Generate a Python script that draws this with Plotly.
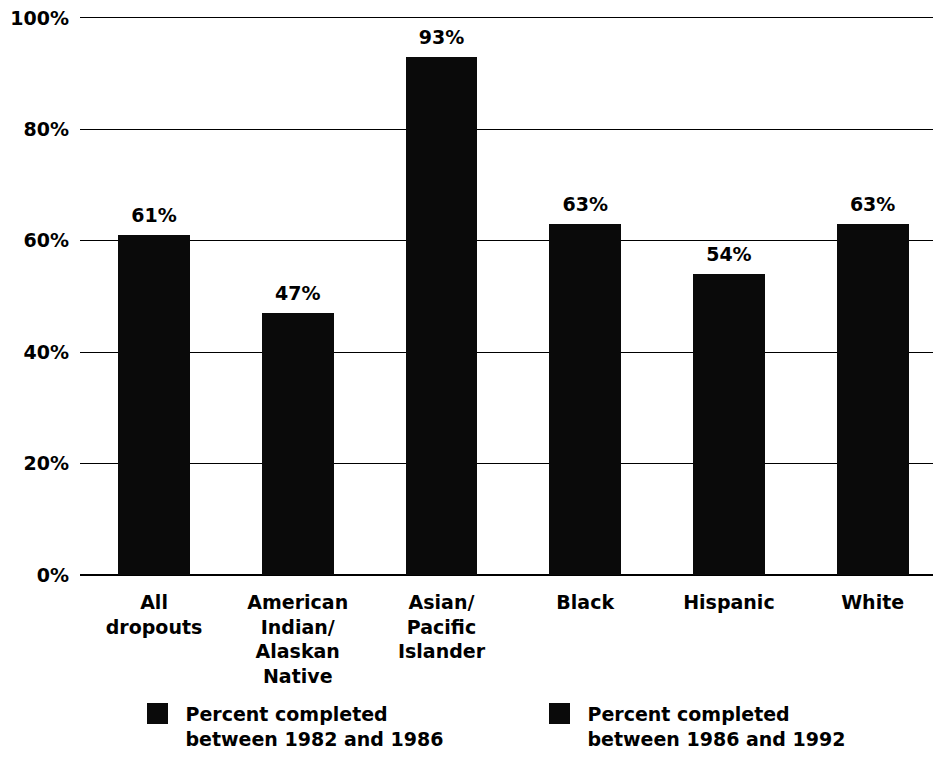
import plotly.graph_objects as go

categories = ["All<br>dropouts", "American<br>Indian/<br>Alaskan<br>Native", "Asian/<br>Pacific<br>Islander",
              "Black", "Hispanic", "White"]
totals = [61, 47, 93, 63, 54, 63]
# split between the two periods is not distinguishable in the scan; estimated from texture bands
completed_1982_1986 = [54, 37, 55, 57, 46, 55]
completed_1986_1992 = [t - a for t, a in zip(totals, completed_1982_1986)]
total_labels = [f"{t}%" for t in totals]
legend_names = ["Percent completed<br>between 1982 and 1986", "Percent completed<br>between 1986 and 1992"]
ytick_vals = [0, 20, 40, 60, 80, 100]
ytick_text = ["0%", "20%", "40%", "60%", "80%", "100%"]

FONT = "DejaVu Sans, Liberation Sans, sans-serif"
BAR = "#0a0a0a"
x_idx = list(range(len(categories)))

fig = go.Figure()
fig.add_trace(go.Bar(x=x_idx, y=completed_1982_1986, marker=dict(color=BAR, line=dict(width=0)),
                     showlegend=False, name=legend_names[0]))
fig.add_trace(go.Bar(x=x_idx, y=completed_1986_1992, marker=dict(color=BAR, line=dict(width=0)),
                     showlegend=False, name=legend_names[1]))
fig.add_trace(go.Scatter(x=x_idx, y=totals, mode="markers+text", text=total_labels, textposition="top center",
                         marker=dict(size=12, color="rgba(0,0,0,0)"),
                         textfont=dict(family=FONT, size=19, color="black", weight="bold"), showlegend=False,
                         cliponaxis=False, hoverinfo="skip"))
for nm in legend_names:
    fig.add_trace(go.Scatter(x=[None], y=[None], mode="markers", name=nm,
                             marker=dict(symbol="square", size=16, color=BAR,
                                         line=dict(color=BAR, width=5))))

fig.update_layout(
    width=933, height=757,
    margin=dict(l=80, r=0, t=18, b=182, autoexpand=False),
    paper_bgcolor="white", plot_bgcolor="white",
    barmode="stack", bargap=0.5,
    font=dict(family=FONT, size=19, color="black", weight="bold"),
    xaxis=dict(range=[-0.515, 5.42], tickvals=x_idx, ticktext=categories, showgrid=False,
               zeroline=False, showline=True, mirror=True, linecolor="black", linewidth=1.4,
               ticks="", automargin=False,
               tickfont=dict(family=FONT, size=19, color="black", weight="bold"),
               ticklabelstandoff=10),
    yaxis=dict(range=[0, 100], tickvals=ytick_vals, ticktext=ytick_text, showgrid=True,
               gridcolor="black", gridwidth=1.4, zeroline=True, zerolinecolor="black", zerolinewidth=1.6,
               showline=False, ticks="", ticklabelstandoff=10, automargin=False,
               tickfont=dict(family=FONT, size=19, color="black", weight="bold")),
    legend=dict(orientation="h", x=0.058, xanchor="left", y=-0.215, yanchor="top",
                traceorder="normal", valign="top",
                font=dict(family=FONT, size=19, color="black", weight="bold"),
                entrywidth=341, entrywidthmode="pixels", itemwidth=46, bgcolor="rgba(0,0,0,0)"),
)
fig.write_html("out.html", config={"displayModeBar": False},
               post_script="document.body.style.margin='0px';")
